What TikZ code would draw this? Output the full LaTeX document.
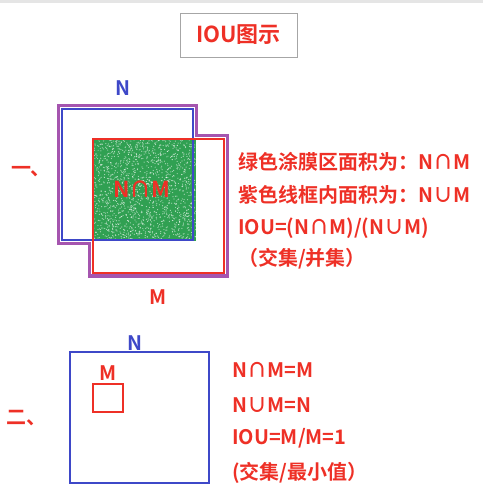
\documentclass[tikz,border=0pt]{standalone}
\usepackage{fontspec}
\newfontfamily\cjk{Noto Sans CJK SC Bold}
\definecolor{iored}{RGB}{238,48,38}
\definecolor{ioblue}{RGB}{62,72,200}
\definecolor{iopurple}{RGB}{165,85,175}
\definecolor{iogreen}{RGB}{48,160,82}

\begin{document}
\begin{tikzpicture}[x=1pt,y=-1pt]
\tikzset{every node/.style={font=\cjk\fontsize{20}{23}\selectfont,inner sep=0pt},
  redtxt/.style={text=iored},
  bluetxt/.style={text=ioblue},
  line/.style={redtxt,anchor=west},
  nbox/.style={draw=ioblue,line width=2.4pt,rectangle},
  mbox/.style={draw=iored,line width=2.4pt,rectangle},
  unionline/.style={draw=iopurple,line width=3.6pt,line join=miter}}
\useasboundingbox (0,0) rectangle (483,496);
\fill[gray!20] (0,0) rectangle (483,2.5);
% title
    \node[draw=gray!70,line width=0.8pt,minimum width=117pt,minimum height=44pt,redtxt,
      font=\cjk\fontsize{22}{25}\selectfont] (title) at (238.5,35) {IOU图示};
% draw case 1
%   covered area
    \fill[iogreen] (93,139) rectangle (196,241);
    \pgfmathsetseed{7}
    \foreach \i in {1,...,1600}{
      \pgfmathsetmacro\px{93+103*rnd}
      \pgfmathsetmacro\py{139+102*rnd}
      \fill[white,opacity=0.6] (\px,\py) circle (0.6pt);
    }
%   boxes
    \draw[unionline] (58.5,105.5) -- (196.5,105.5) -- (196.5,135.5) -- (227.5,135.5)
      -- (227.5,276) -- (89.5,276) -- (89.5,243.5) -- (58.5,243.5) -- cycle;
    \node[nbox,minimum width=131pt,minimum height=131pt] (N1) at (127.5,174.5) {};
    \node[mbox,minimum width=131pt,minimum height=134pt] (M1) at (158.5,206) {};
%   labels
    \node[redtxt,font=\cjk\fontsize{22}{25}\selectfont] (NM1) at (142,189) {N∩M};
    \node[bluetxt] (Nlab1) at (123,88) {N};
    \node[redtxt] (Mlab1) at (158,297) {M};
    \node[redtxt] (one) at (31,172) {一、};
%   text
    \node[line] (t1) at (238,162) {绿色涂膜区面积为：N∩M};
    \node[line] (t2) at (238,195) {紫色线框内面积为：N∪M};
    \node[line] (t3) at (238,228) {IOU=(N∩M)/(N∪M)};
    \node[line] (t4) at (238,259) {（交集/并集）};
% draw case 2
%   boxes
    \node[nbox,minimum width=139pt,minimum height=131pt] (N2) at (139.5,417.5) {};
    \node[mbox,minimum width=30pt,minimum height=28pt] (M2) at (108,398) {};
%   labels
    \node[bluetxt] (Nlab2) at (135,343) {N};
    \node[redtxt] (Mlab2) at (108,373) {M};
    \node[redtxt] (two) at (26,418) {二、};
%   text
    \node[line] (s1) at (232,370) {N∩M=M};
    \node[line] (s2) at (232,405) {N∪M=N};
    \node[line] (s3) at (232,438) {IOU=M/M=1};
    \node[line] (s4) at (232,473) {(交集/最小值）};
\end{tikzpicture}
\end{document}
